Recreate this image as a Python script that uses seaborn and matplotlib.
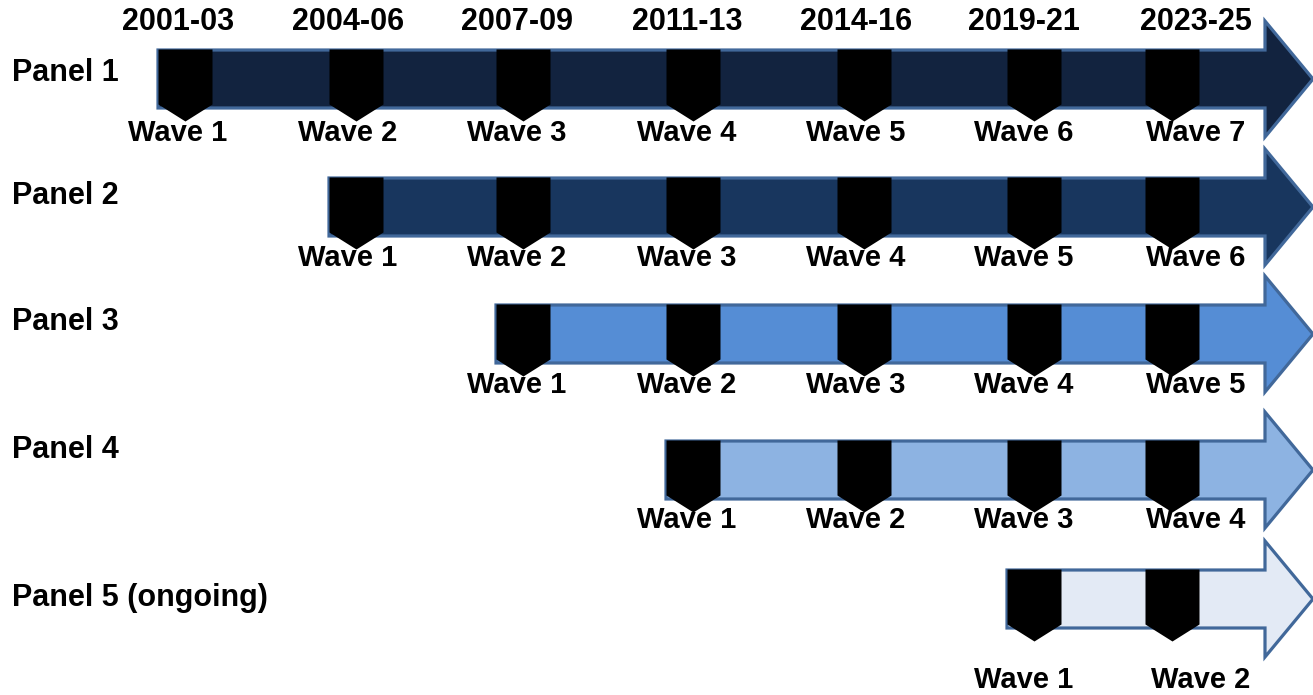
import matplotlib
matplotlib.use("Agg")
import matplotlib.pyplot as plt
from matplotlib.path import Path
import seaborn as sns
import pandas as pd

# ---- data ----
periods = ["2001-03", "2004-06", "2007-09", "2011-13", "2014-16", "2019-21", "2023-25"]
panels = ["Panel 1", "Panel 2", "Panel 3", "Panel 4", "Panel 5 (ongoing)"]
first_col = [0, 1, 2, 3, 5]
n_waves = [7, 6, 5, 4, 2]
fills = ["#12233F", "#18365E", "#558DD5", "#8DB3E2", "#E3EAF5"]

# ---- layout (pixel space) ----
W, H = 1313, 695
col_label_x = [178, 348, 517, 687, 856, 1024, 1196]
col_marker_x = [185, 356, 523, 693, 864, 1034, 1172]
row_y = [79, 207, 334, 470, 599]
panel_label_y = [73, 196, 322, 450, 598]
wave_label_y = [133, 258, 385, 520, 680]
half_body, half_head, head_base, tip_x = 29, 58, 1265, 1313
edge = "#41689A"

sns.set_theme(style="white")
plt.rcParams["font.family"] = ["Liberation Sans", "DejaVu Sans"]

fig = plt.figure(figsize=(W / 100, H / 100), dpi=100)
ax = fig.add_axes([0, 0, 1, 1])
ax.set_xlim(0, W)
ax.set_ylim(H, 0)
ax.axis("off")

# period labels
for i, p in enumerate(periods):
    ax.text(col_label_x[i], 22, p, ha="center", va="center",
            fontsize=22, fontweight="bold", color="black")

# arrows
for r, name in enumerate(panels):
    c = row_y[r]
    x0 = col_marker_x[first_col[r]] - 27
    xs = [x0, head_base, head_base, tip_x, head_base, head_base, x0]
    ys = [c - half_body, c - half_body, c - half_head, c, c + half_head, c + half_body, c + half_body]
    ax.fill(xs, ys, facecolor=fills[r], edgecolor=edge, linewidth=2.3,
            joinstyle="miter", zorder=1)
    ax.text(12, panel_label_y[r], name, ha="left", va="center",
            fontsize=22, fontweight="bold", color="black")

# wave markers (pentagon pointing down)
rows = []
for r in range(len(panels)):
    for k in range(n_waves[r]):
        col = first_col[r] + k
        rows.append({"x": col_marker_x[col], "y": row_y[r],
                     "lx": col_label_x[col] + (5 if r == 4 and k == 1 else 0),
                     "ly": wave_label_y[r], "label": f"Wave {k + 1}"})
df = pd.DataFrame(rows)

verts = [(-27, 30), (27, 30), (27, -25), (0, -42), (-27, -25), (-27, 30)]
codes = [Path.MOVETO, Path.LINETO, Path.LINETO, Path.LINETO, Path.LINETO, Path.CLOSEPOLY]
pent = Path(verts, codes)
ms = 84 * 0.72
sns.scatterplot(data=df, x="x", y="y", marker=pent, s=ms ** 2, color="black",
                linewidth=0, ax=ax, zorder=3, legend=False)
ax.set_xlim(0, W)
ax.set_ylim(H, 0)
ax.axis("off")

for _, row in df.iterrows():
    ax.text(row["lx"], row["ly"], row["label"], ha="center", va="center",
            fontsize=21, fontweight="bold", color="black", zorder=4)

fig.savefig("out.png", dpi=100, facecolor="white")
